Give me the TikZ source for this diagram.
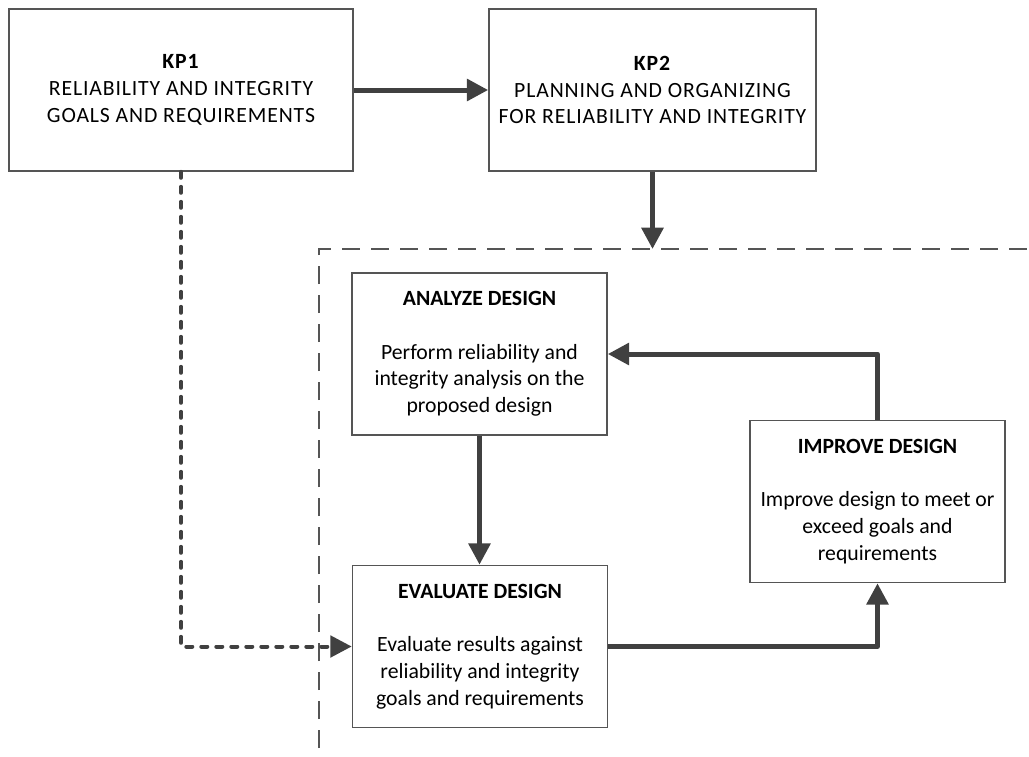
\documentclass[tikz,border=0pt]{standalone}
\usepackage{fontspec}
\setmainfont{Carlito}
\newfontfamily\kpfont[LetterSpace=4]{Carlito}
\usetikzlibrary{arrows.meta}
\definecolor{linegray}{HTML}{404040}
\definecolor{boxgray}{HTML}{555555}

\begin{document}
\begin{tikzpicture}[x=0.75pt, y=-0.75pt,
  box/.style={draw=boxgray, line width=1.2pt, fill=white, align=center, inner sep=0pt, font=\fontsize{16.3}{20}\selectfont},
  kpbox/.style={box, minimum height=121.5pt, font=\fontsize{16.3}{20}\selectfont\kpfont},
  stage/.style={box, minimum width=191.25pt, minimum height=121.5pt},
  flow/.style={draw=linegray, line width=3.75pt, line join=round, -{Triangle[length=16pt, width=16pt]}},
  link/.style={flow, line width=3pt, line cap=round, dash pattern=on 4.5pt off 6.75pt}]
\useasboundingbox (0,0) rectangle (1029,757);

\coordinate (fb) at (319,748);
\coordinate (fc) at (319,249);
\coordinate (fr) at (1029,249);
\coordinate (top) at (652.5,249);
\draw [boxgray, line width=1.5pt, dash pattern=on 13.5pt off 8.25pt] (fb) -- (fc) -- (fr);

\draw (181,90) node[kpbox, minimum width=258pt] (kp1) {\textbf{KP1}\\RELIABILITY AND INTEGRITY\\GOALS AND REQUIREMENTS};
\draw (652.5,90) node[kpbox, minimum width=245.25pt] (kp2) {\textbf{KP2}\\PLANNING AND ORGANIZING\\FOR RELIABILITY AND INTEGRITY};
\draw (479.5,354) node[stage] (analyze) {\textbf{ANALYZE DESIGN}\\[20pt]Perform reliability and\\integrity analysis on the\\proposed design};
\draw (480,646.5) node[stage] (evaluate) {\textbf{EVALUATE DESIGN}\\[20pt]Evaluate results against\\reliability and integrity\\goals and requirements};
\draw (877.5,501.5) node[stage] (improve) {\textbf{IMPROVE DESIGN}\\[20pt]Improve design to meet or\\exceed goals and\\requirements};

\draw [flow] (kp1) -- (kp2);
\draw [flow] (kp2.south) -- (top);
\draw [flow] (analyze.south) -- (analyze.south |- evaluate.north);
\draw [flow] (improve.north) |- (analyze.east);
\draw [flow] (evaluate.east) -| (improve.south);
\draw [link] (kp1.south) |- (evaluate.west);

\end{tikzpicture}
\end{document}
